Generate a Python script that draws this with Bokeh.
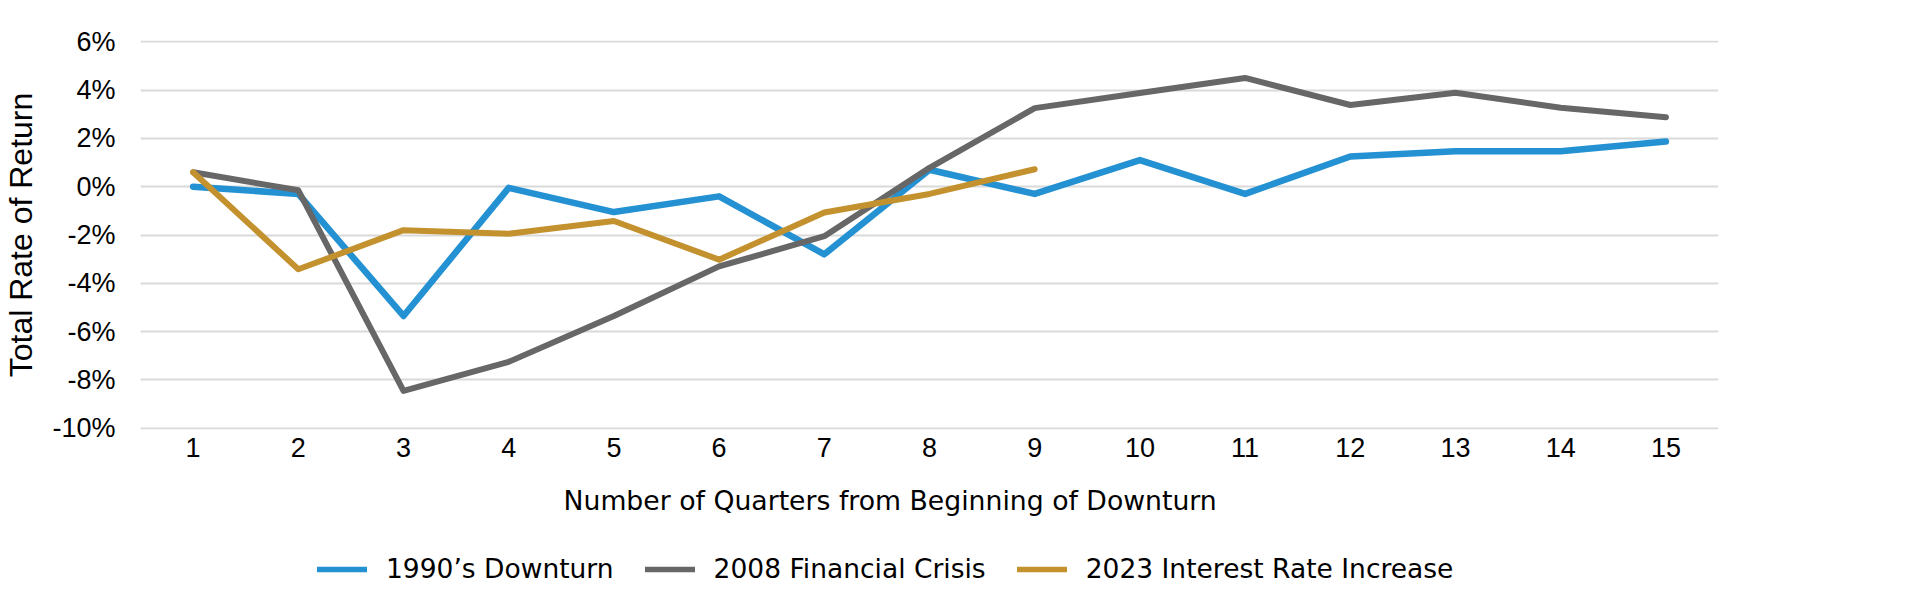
from bokeh.plotting import figure
from bokeh.layouts import column
from bokeh.models import (Range1d, FixedTicker, PrintfTickFormatter, Legend, LegendItem, Title, ColumnDataSource)
from bokeh.embed import file_html
from bokeh.resources import INLINE

quarters = list(range(1, 16))
downturn_1990 = [0.0, -0.3, -5.35, -0.05, -1.05, -0.4, -2.8, 0.7, -0.3, 1.1, -0.3, 1.25, 1.47, 1.47, 1.87]
crisis_2008 = [0.6, -0.15, -8.45, -7.25, -5.35, -3.3, -2.05, 0.78, 3.25, 3.88, 4.5, 3.38, 3.89, 3.27, 2.87]
rate_2023 = [0.6, -3.42, -1.8, -1.95, -1.42, -3.02, -1.07, -0.3, 0.72]
y_ticks = [-10, -8, -6, -4, -2, 0, 2, 4, 6]
series_names = ["1990\u2019s Downturn", "2008 Financial Crisis", "2023 Interest Rate Increase"]
x_title = "Number of Quarters from Beginning of Downturn"
y_title = "Total Rate of Return"

colors = ["#2391D2", "#676767", "#C3922E"]
widths = [6.5, 6, 6]
TICK_FONT = "Liberation Sans"
SIDE_FONT = "DejaVu Sans"

p = figure(width=1898, height=549, output_backend="svg", toolbar_location=None,
           x_range=Range1d(0.5, 15.5), y_range=Range1d(-10.05, 6.05),
           min_border_left=129, min_border_right=180, min_border_top=40, min_border_bottom=120)
p.outline_line_color = None
p.background_fill_color = "white"
p.border_fill_color = "white"

p.xaxis.ticker = FixedTicker(ticks=quarters)
p.yaxis.ticker = FixedTicker(ticks=y_ticks)
p.yaxis.formatter = PrintfTickFormatter(format="%d%%")
for ax in (p.xaxis, p.yaxis):
    ax.axis_line_color = None
    ax.major_tick_line_color = None
    ax.minor_tick_line_color = None
    ax.major_tick_in = 0
    ax.major_tick_out = 0
    ax.major_label_text_font = TICK_FONT
    ax.major_label_text_font_size = "27px"
    ax.major_label_text_color = "#000000"
p.yaxis.major_label_standoff = 25
p.xaxis.major_label_standoff = 8
p.yaxis.axis_label = y_title
p.yaxis.axis_label_text_font = TICK_FONT
p.yaxis.axis_label_text_font_size = "32px"
p.yaxis.axis_label_text_font_style = "normal"
p.yaxis.axis_label_text_color = "#000000"
p.yaxis.axis_label_standoff = 10

p.xgrid.grid_line_color = None
p.ygrid.grid_line_color = "#D9D9D9"
p.ygrid.grid_line_width = 2

sources = []
for ys, c, w in zip([downturn_1990, crisis_2008, rate_2023], colors, widths):
    src = ColumnDataSource(dict(x=quarters[:len(ys)], y=ys))
    sources.append(src)
    p.line("x", "y", source=src, line_color=c, line_width=w, line_cap="round", line_join="round")

xt = Title(text=x_title, align="left", offset=423, standoff=46,
           text_font=SIDE_FONT, text_font_size="26.7px", text_font_style="normal", text_color="#000000")
p.add_layout(xt, "below")

# legend strip below the chart (its key lines reuse the series sources, out of its view)
lg = figure(width=1898, height=43, output_backend="svg", toolbar_location=None,
            x_range=Range1d(100, 101), y_range=Range1d(100, 101),
            x_axis_location=None, y_axis_location=None,
            min_border_left=0, min_border_right=0, min_border_top=0, min_border_bottom=0)
lg.outline_line_color = None
lg.grid.grid_line_color = None
lg.background_fill_color = "white"
lg.border_fill_color = "white"
keys = []
for src, c in zip(sources, colors):
    keys.append(lg.line("x", "y", source=src, line_color=c, line_width=5.5, line_cap="round"))

legend = Legend(items=[LegendItem(label=n, renderers=[r]) for n, r in zip(series_names, keys)],
                orientation="horizontal", location=(177, 8),
                glyph_width=50, glyph_height=30, label_height=30, label_standoff=19, spacing=31,
                padding=0, margin=0, border_line_color=None, background_fill_alpha=0,
                label_text_font=SIDE_FONT, label_text_font_size="26.5px", label_text_color="#000000")
lg.add_layout(legend)

page = column(p, lg, spacing=0)
open("out.html", "w").write(file_html(page, INLINE))
